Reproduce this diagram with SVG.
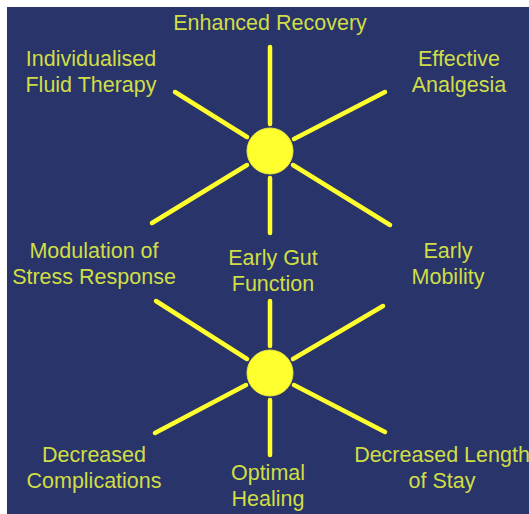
<svg xmlns="http://www.w3.org/2000/svg" width="529" height="514" viewBox="0 0 529 514">
<style>
.lbl{font-family:"Liberation Sans",Arial,sans-serif;font-size:21.5px;fill:#D0DE46;text-anchor:middle}
.ray{stroke:#FFFF2E;stroke-width:4.5;stroke-linecap:round;fill:none}
.hub{fill:#FFFF2E;stroke:#E8EC3A;stroke-width:1}
</style>
<rect x="0" y="0" width="529" height="514" fill="#FFFFFF"/>
<rect x="7" y="7" width="522" height="507" fill="#29346A"/>
<g id="connectors">
<line class="ray" x1="270" y1="47" x2="270" y2="124"/>
<line class="ray" x1="175" y1="92" x2="247" y2="137"/>
<line class="ray" x1="385" y1="92" x2="294" y2="139"/>
<line class="ray" x1="152" y1="223" x2="247" y2="165"/>
<line class="ray" x1="390" y1="225" x2="293" y2="165"/>
<line class="ray" x1="270" y1="178" x2="270" y2="233"/>
<line class="ray" x1="270" y1="301" x2="270" y2="346"/>
<line class="ray" x1="156" y1="301" x2="247" y2="359"/>
<line class="ray" x1="383" y1="306" x2="293" y2="359"/>
<line class="ray" x1="155" y1="433" x2="246" y2="385"/>
<line class="ray" x1="385" y1="432" x2="294" y2="385"/>
<line class="ray" x1="270" y1="400" x2="270" y2="455"/>
</g>
<g id="hub-top"><circle class="hub" cx="270" cy="151" r="23"/></g>
<g id="hub-bottom"><circle class="hub" cx="270" cy="373" r="23"/></g>
<g id="enhanced-recovery"><text class="lbl" x="270" y="30">Enhanced Recovery</text></g>
<g id="fluid-therapy"><text class="lbl" x="91" y="66">Individualised</text><text class="lbl" x="91" y="92">Fluid Therapy</text></g>
<g id="analgesia"><text class="lbl" x="459" y="66">Effective</text><text class="lbl" x="459" y="92">Analgesia</text></g>
<g id="stress-response"><text class="lbl" x="94" y="258">Modulation of</text><text class="lbl" x="94" y="284">Stress Response</text></g>
<g id="gut-function"><text class="lbl" x="273" y="265">Early Gut</text><text class="lbl" x="273" y="291">Function</text></g>
<g id="mobility"><text class="lbl" x="448" y="258">Early</text><text class="lbl" x="448" y="284">Mobility</text></g>
<g id="complications"><text class="lbl" x="94" y="462">Decreased</text><text class="lbl" x="94" y="488">Complications</text></g>
<g id="healing"><text class="lbl" x="268" y="480">Optimal</text><text class="lbl" x="268" y="506">Healing</text></g>
<g id="length-of-stay"><text class="lbl" x="442" y="462">Decreased Length</text><text class="lbl" x="442" y="488">of Stay</text></g>
</svg>
